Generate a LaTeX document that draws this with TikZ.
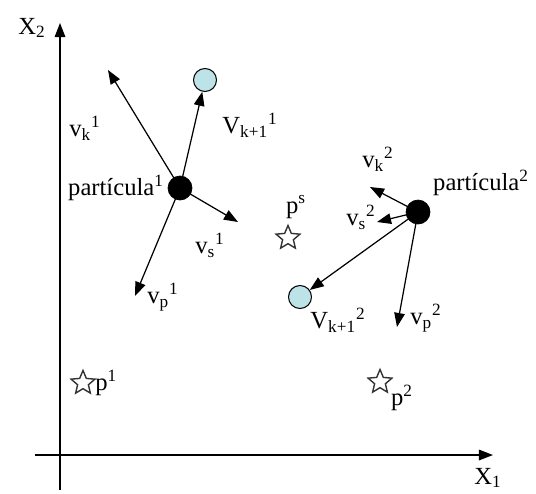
\documentclass[tikz,border=0pt]{standalone}
\usepackage{fontspec}
\setmainfont{Liberation Serif}
\usetikzlibrary{
  positioning,
  shapes.geometric,
  arrows.meta,
}
\definecolor{border}{HTML}{000000}
\definecolor{fillBest}{HTML}{BCE3E8}
\definecolor{starLine}{HTML}{333333}
\tikzset{
  particle/.style={
    circle, draw=border, fill=black, minimum size=0.48cm, inner sep=0pt,
  },
  bestpos/.style={
    circle, draw=border, fill=fillBest, minimum size=0.46cm, inner sep=0pt,
    line width=0.6pt,
  },
  goal/.style={
    star, star points=5, star point ratio=2.2, draw=starLine, fill=white,
    minimum size=0.5cm, inner sep=0pt, line width=0.8pt,
  },
  arrow/.style={-{Triangle[length=8pt, width=6pt]}, border, line width=0.7pt},
  axis/.style={-{Triangle[length=8pt, width=6pt]}, border, line width=0.8pt},
  label/.style={font=\fontsize{14}{16}\selectfont, inner sep=1pt},
}

\begin{document}
\begin{tikzpicture}

  \useasboundingbox (0, 0) rectangle (10.72, 9.86);

  % Axes
  \coordinate (ybot) at (1.20, 0.06);
  \coordinate (ytop) at (1.20, 9.40);
  \coordinate (xleft) at (0.70, 0.76);
  \coordinate (xright) at (9.86, 0.76);
  \draw[axis] (ybot) -- (ytop);
  \draw[axis] (xleft) -- (xright);
  \node[label] (lx2) at (0.64, 9.30) {X\textsubscript{2}};
  \node[label] (lx1) at (9.76, 0.30) {X\textsubscript{1}};

  % Particle 1
  \node[particle] (part1) at (3.60, 6.10) {};
  \node[label, left=1pt of part1] (lpart1) {partícula\textsuperscript{1}};
  \node[bestpos] (vnew1) at (4.10, 8.26) {};
  \coordinate (vk1) at (2.16, 8.46);
  \coordinate (vs1) at (4.76, 5.42);
  \coordinate (vp1) at (2.70, 3.94);

  \draw[arrow] (part1.center) -- (vk1);
  \draw[arrow] (part1.center) -- (vnew1);
  \draw[arrow] (part1.center) -- (vs1);
  \draw[arrow] (part1.center) -- (vp1);

  \node[label] (lvk1) at (1.70, 7.30) {v\textsubscript{k}\textsuperscript{1}};
  \node[label] (lvnew1) at (5.00, 7.36) {V\textsubscript{k+1}\textsuperscript{1}};
  \node[label] (lvs1) at (4.20, 4.96) {v\textsubscript{s}\textsuperscript{1}};
  \node[label] (lvp1) at (3.26, 3.92) {v\textsubscript{p}\textsuperscript{1}};

  % Particle 2
  \node[particle] (part2) at (8.36, 5.62) {};
  \node[label] (lpart2) at (9.62, 6.20) {partícula\textsuperscript{2}};
  \node[bestpos] (vnew2) at (6.00, 3.92) {};
  \coordinate (vk2) at (7.40, 6.12);
  \coordinate (vs2) at (7.54, 5.42);
  \coordinate (vp2) at (7.94, 3.32);

  \draw[arrow] (part2.center) -- (vk2);
  \draw[arrow] (part2.center) -- (vs2);
  \draw[arrow] (part2.center) -- (vnew2);
  \draw[arrow] (part2.center) -- (vp2);

  \node[label] (lvk2) at (7.56, 6.68) {v\textsubscript{k}\textsuperscript{2}};
  \node[label] (lvs2) at (7.22, 5.52) {v\textsubscript{s}\textsuperscript{2}};
  \node[label] (lvnew2) at (6.76, 3.46) {V\textsubscript{k+1}\textsuperscript{2}};
  \node[label] (lvp2) at (8.52, 3.50) {v\textsubscript{p}\textsuperscript{2}};

  % Best positions
  \node[goal] (ps) at (5.76, 5.10) {};
  \node[label] (lps) at (5.92, 5.72) {p\textsuperscript{s}};
  \node[goal] (p1) at (1.66, 2.20) {};
  \node[label, right=1pt of p1] (lp1) {p\textsuperscript{1}};
  \node[goal] (p2) at (7.60, 2.22) {};
  \node[label] (lp2) at (8.04, 1.90) {p\textsuperscript{2}};

\end{tikzpicture}
\end{document}
